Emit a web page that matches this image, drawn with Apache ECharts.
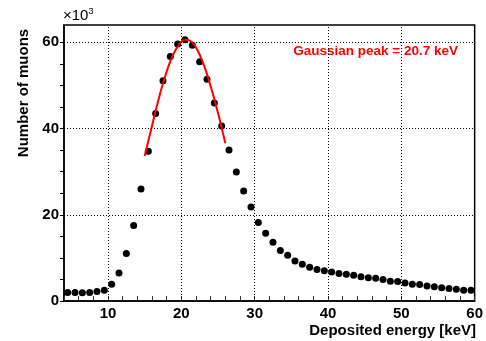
<!DOCTYPE html>
<html>
<head>
<meta charset="utf-8">
<script src="https://cdn.jsdelivr.net/npm/echarts@6/dist/echarts.min.js"></script>
<style>
    html, body { margin: 0; padding: 0; background: #fff; }
    #chart { width: 486px; height: 341px; }
</style>
</head>
<body>
<div id="chart"></div>
<script>
// bin centres [keV] and counts [x10^3]
const energy = [
    4.5, 5.5, 6.5, 7.5, 8.5, 9.5, 10.5, 11.5, 12.5, 13.5,
    14.5, 15.5, 16.5, 17.5, 18.5, 19.5, 20.5, 21.5, 22.5, 23.5,
    24.5, 25.5, 26.5, 27.5, 28.5, 29.5, 30.5, 31.5, 32.5, 33.5,
    34.5, 35.5, 36.5, 37.5, 38.5, 39.5, 40.5, 41.5, 42.5, 43.5,
    44.5, 45.5, 46.5, 47.5, 48.5, 49.5, 50.5, 51.5, 52.5, 53.5,
    54.5, 55.5, 56.5, 57.5, 58.5, 59.5
]
const muons = [
    2.0, 2.0, 1.9, 2.0, 2.2, 2.5, 3.9, 6.5, 11.0, 17.5,
    26.0, 34.7, 43.5, 51.1, 56.7, 59.6, 60.6, 59.3, 55.5, 51.4,
    45.9, 40.6, 35.0, 29.9, 25.5, 21.8, 18.2, 15.7, 13.6, 11.7,
    10.6, 9.3, 8.5, 7.8, 7.3, 7.0, 6.7, 6.4, 6.2, 6.0,
    5.6, 5.4, 5.3, 5.0, 4.6, 4.5, 4.2, 3.9, 3.8, 3.5,
    3.3, 3.1, 2.9, 2.7, 2.5, 2.5
]

// gaussian fit curve
const fitX = [15, 15.5, 16, 16.5, 17, 17.5, 18, 18.5, 19, 19.5, 20, 20.5, 21, 21.5, 22, 22.5, 23, 23.5, 24, 24.5, 25, 25.5, 26]
const fitY = [33.6, 37.1, 40.6, 44.1, 47.4, 50.5, 53.2, 55.6, 57.5, 59.0, 60.1, 60.6, 60.5, 59.9, 58.8, 57.1, 55.0, 52.6, 49.8, 46.8, 43.6, 40.2, 36.6]

const xGrid = [10, 20, 30, 40, 50]
const yGrid = [20, 40, 60]
const xLabels = [10, 20, 30, 40, 50, 60]
const yLabels = [0, 20, 40, 60]

const peakText = 'Gaussian peak = 20.7 keV'

const chart = echarts.init(document.getElementById('chart'), null, { renderer: 'canvas' })

const font = 'Liberation Sans, Arial, Helvetica, sans-serif'
const dotted = { type: [1, 2], color: '#000', width: 1 }

const option = {
    animation: false,
    backgroundColor: '#fff',
    textStyle: { fontFamily: font },
    grid: {
        left: 64, right: 10, top: 25, bottom: 40,
        show: true, borderColor: '#000', borderWidth: 1.5,
        backgroundColor: 'transparent'
    },
    xAxis: {
        type: 'value',
        min: 4, max: 60, interval: 2,
        axisLine: { show: true, onZero: false, lineStyle: { color: '#000', width: 1.5 } },
        axisTick: { show: true, inside: true, length: 5, lineStyle: { color: '#333', width: 1 } },
        axisLabel: {
            color: '#000', fontSize: 15, fontWeight: 'bold', margin: 5,
            formatter: v => (xLabels.includes(v) ? String(v) : '')
        },
        splitLine: { show: false }
    },
    yAxis: {
        type: 'value',
        min: 0, max: 64, interval: 5,
        axisLine: { show: true, lineStyle: { color: '#000', width: 1.5 } },
        axisTick: { show: true, inside: false, length: 4, lineStyle: { color: '#000', width: 1 } },
        axisLabel: {
            color: '#000', fontSize: 15, fontWeight: 'bold', margin: 5,
            showMaxLabel: false,
            formatter: v => (yLabels.includes(v) ? String(v) : '')
        },
        splitLine: { show: false }
    },
    graphic: [
        {
            type: 'text', left: 63, top: 7,
            style: {
                text: '×10{sup|3}',
                rich: { sup: { fontSize: 9, verticalAlign: 'top', padding: [0, 0, 8, 0] } },
                fontSize: 15, fill: '#000', fontFamily: font
            }
        },
        {
            type: 'text', x: 24, y: 93, rotation: Math.PI / 2,
            style: {
                text: 'Number of muons', fontSize: 15, fontWeight: 'bold',
                fill: '#000', align: 'center', verticalAlign: 'middle', fontFamily: font
            }
        },
        {
            type: 'text', x: 476, y: 331,
            style: {
                text: 'Deposited energy [keV]', fontSize: 15, fontWeight: 'bold',
                fill: '#000', align: 'right', verticalAlign: 'middle', fontFamily: font
            }
        },
        {
            type: 'text', x: 458, y: 51,
            style: {
                text: peakText, fontSize: 13.5, fontWeight: 'bold',
                fill: '#ff0000', align: 'right', verticalAlign: 'middle', fontFamily: font
            }
        }
    ],
    series: [
        {
            // grid lines
            type: 'line',
            data: [],
            z: 1,
            markLine: {
                silent: true,
                symbol: 'none',
                label: { show: false },
                lineStyle: dotted,
                data: xGrid.map(v => ({ xAxis: v })).concat(yGrid.map(v => ({ yAxis: v })))
            }
        },
        {
            type: 'scatter',
            data: energy.map((e, i) => [e, muons[i]]),
            symbol: 'circle',
            symbolSize: 7,
            itemStyle: { color: '#000', opacity: 1 },
            z: 3
        },
        {
            type: 'line',
            data: fitX.map((x, i) => [x, fitY[i]]),
            smooth: true,
            showSymbol: false,
            lineStyle: { color: '#ff0000', width: 2 },
            z: 4
        }
    ]
}

chart.setOption(option)
</script>
</body>
</html>
